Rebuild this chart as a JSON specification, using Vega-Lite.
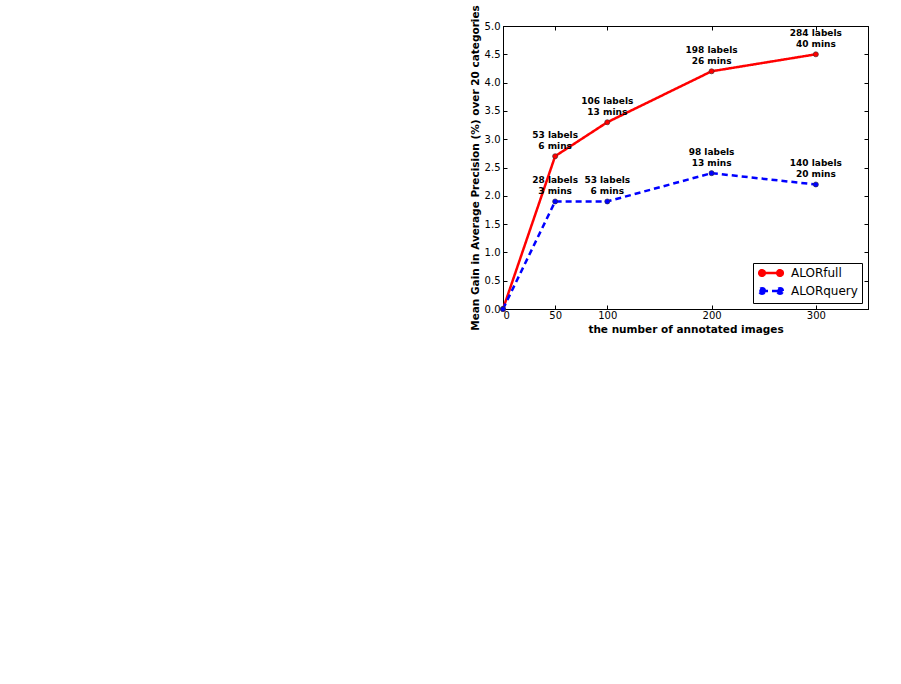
{
  "$schema": "https://vega.github.io/schema/vega-lite/v6.json",
  "width": 365,
  "height": 283,
  "autosize": {"type": "none"},
  "padding": {"left": 503, "top": 26, "right": 33, "bottom": 375},
  "background": "white",
  "config": {
    "font": "DejaVu Sans",
    "view": {"stroke": "black", "strokeWidth": 1},
    "axis": {
      "grid": false,
      "domainColor": "black",
      "tickColor": "black",
      "tickSize": -4,
      "labelColor": "black",
      "labelFontSize": 10,
      "labelFont": "DejaVu Sans",
      "titleFont": "DejaVu Sans",
      "titleFontSize": 10.5,
      "titleFontWeight": "bold",
      "titleColor": "black"
    }
  },
  "data": {
    "values": [
      {"series": "ALORfull", "images": 0, "gain": 0.0, "label": ""},
      {"series": "ALORfull", "images": 50, "gain": 2.7, "label": "53 labels\n6 mins"},
      {"series": "ALORfull", "images": 100, "gain": 3.3, "label": "106 labels\n13 mins"},
      {"series": "ALORfull", "images": 200, "gain": 4.2, "label": "198 labels\n26 mins"},
      {"series": "ALORfull", "images": 300, "gain": 4.5, "label": "284 labels\n40 mins"},
      {"series": "ALORquery", "images": 0, "gain": 0.0, "label": ""},
      {"series": "ALORquery", "images": 50, "gain": 1.9, "label": "28 labels\n3 mins"},
      {"series": "ALORquery", "images": 100, "gain": 1.9, "label": "53 labels\n6 mins"},
      {"series": "ALORquery", "images": 200, "gain": 2.4, "label": "98 labels\n13 mins"},
      {"series": "ALORquery", "images": 300, "gain": 2.2, "label": "140 labels\n20 mins"}
    ]
  },
  "resolve": {"axis": {"x": "independent", "y": "independent"}},
  "layer": [
    {
      "mark": {"type": "line", "strokeWidth": 2.5},
      "encoding": {
        "x": {"field": "images", "type": "quantitative", "scale": {"domain": [0, 350], "nice": false},
              "axis": {"values": [0, 50, 100, 200, 300], "title": "the number of annotated images", "labelPadding": 5, "titlePadding": 4}},
        "y": {"field": "gain", "type": "quantitative", "scale": {"domain": [0, 5], "nice": false},
              "axis": {"values": [0, 0.5, 1, 1.5, 2, 2.5, 3, 3.5, 4, 4.5, 5], "format": ".1f", "title": "Mean Gain in Average Precision (%) over 20 categories", "labelPadding": 7, "titlePadding": 4}},
        "color": {"field": "series", "type": "nominal",
                  "scale": {"domain": ["ALORfull", "ALORquery"], "range": ["#ff0000", "#0000ff"]},
                  "legend": {
                    "title": null,
                    "orient": "bottom-right",
                    "offset": 6,
                    "strokeColor": "black",
                    "fillColor": "white",
                    "padding": 4,
                    "labelFontSize": 12,
                    "labelFont": "DejaVu Sans",
                    "labelColor": "black",
                    "labelOffset": 14,
                    "rowPadding": 2,
                    "symbolSize": 64,
                    "symbolStrokeWidth": 0.35,
                    "symbolOffset": 8,
                    "symbolType": "M-1.55,0 A0.7,0.7 0 1,0 -2.95,0 A0.7,0.7 0 1,0 -1.55,0 Z M2.95,0 A0.7,0.7 0 1,0 1.55,0 A0.7,0.7 0 1,0 2.95,0 Z M-2.25,0 L2.25,0",
                    "encode": {"symbols": {"update": {"fill": {"scale": "color", "field": "value"}, "strokeWidth": {"value": 2.5}}}}
                  }},
        "strokeDash": {"field": "series", "type": "nominal",
                       "scale": {"domain": ["ALORfull", "ALORquery"], "range": [[1, 0], [6, 4]]},
                       "legend": null}
      }
    },
    {
      "mark": {"type": "point", "filled": true, "size": 26, "opacity": 1, "stroke": "#333333", "strokeWidth": 0.6},
      "encoding": {
        "x": {"field": "images", "type": "quantitative",
              "axis": {"orient": "top", "values": [0, 50, 100, 200, 300], "labels": false, "title": null}},
        "y": {"field": "gain", "type": "quantitative",
              "axis": {"orient": "right", "values": [0, 0.5, 1, 1.5, 2, 2.5, 3, 3.5, 4, 4.5, 5], "labels": false, "title": null}},
        "fill": {"field": "series", "type": "nominal",
                 "scale": {"domain": ["ALORfull", "ALORquery"], "range": ["#ff0000", "#0000ff"]},
                 "legend": null}
      }
    },
    {
      "mark": {"type": "text", "lineBreak": "\n", "align": "center", "baseline": "bottom", "dy": -16,
               "fontSize": 9, "fontWeight": "bold", "lineHeight": 11, "color": "black", "font": "DejaVu Sans"},
      "encoding": {
        "x": {"field": "images", "type": "quantitative", "axis": null},
        "y": {"field": "gain", "type": "quantitative", "axis": null},
        "text": {"field": "label"}
      }
    }
  ]
}
